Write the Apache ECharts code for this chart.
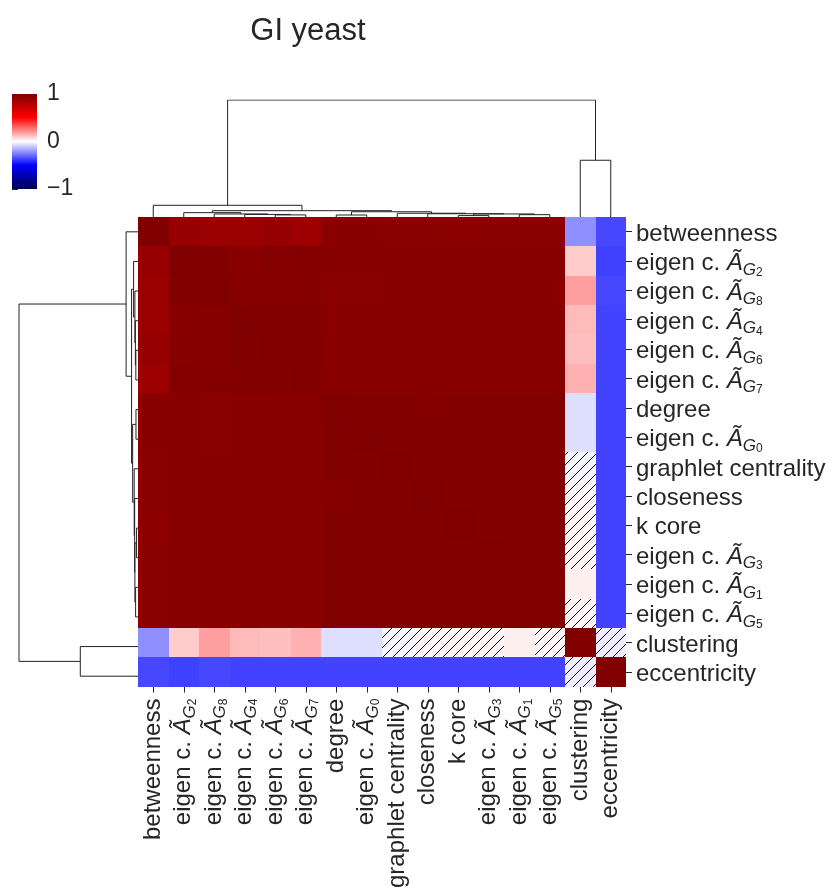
<!DOCTYPE html>
<html><head><meta charset="utf-8">
<script src="https://cdn.jsdelivr.net/npm/echarts@6/dist/echarts.min.js"></script>
<style>html,body{margin:0;padding:0;background:#fff}#c{width:829px;height:891px}</style>
</head><body><div id="c"></div>
<script>
// ---- data ----
const labels = ['betweenness','eigen c. Ã_{G_2}','eigen c. Ã_{G_8}','eigen c. Ã_{G_4}','eigen c. Ã_{G_6}','eigen c. Ã_{G_7}','degree','eigen c. Ã_{G_0}','graphlet centrality','closeness','k core','eigen c. Ã_{G_3}','eigen c. Ã_{G_1}','eigen c. Ã_{G_5}','clustering','eccentricity'];

const corr = [
 [ 1.000, 0.910, 0.895, 0.895, 0.910, 0.890, 0.960, 0.960, 0.955, 0.955, 0.950, 0.955, 0.955, 0.955,-0.220,-0.360],
 [ 0.910, 1.000, 0.990, 0.970, 0.980, 0.985, 0.965, 0.965, 0.965, 0.965, 0.965, 0.965, 0.965, 0.965, 0.100,-0.375],
 [ 0.895, 0.990, 1.000, 0.975, 0.975, 0.985, 0.955, 0.955, 0.960, 0.960, 0.960, 0.960, 0.960, 0.960, 0.190,-0.360],
 [ 0.895, 0.970, 0.975, 1.000, 0.990, 0.990, 0.960, 0.960, 0.965, 0.965, 0.965, 0.965, 0.965, 0.965, 0.135,-0.370],
 [ 0.910, 0.980, 0.975, 0.990, 1.000, 0.990, 0.965, 0.965, 0.970, 0.970, 0.970, 0.970, 0.970, 0.970, 0.125,-0.370],
 [ 0.890, 0.985, 0.985, 0.990, 0.990, 1.000, 0.965, 0.965, 0.970, 0.970, 0.970, 0.970, 0.970, 0.970, 0.155,-0.370],
 [ 0.960, 0.965, 0.955, 0.960, 0.965, 0.965, 1.000, 0.990, 0.990, 0.985, 0.990, 0.990, 0.990, 0.990,-0.065,-0.370],
 [ 0.960, 0.965, 0.955, 0.960, 0.965, 0.965, 0.990, 1.000, 0.995, 0.990, 0.990, 0.990, 0.990, 0.990,-0.065,-0.370],
 [ 0.955, 0.965, 0.960, 0.965, 0.970, 0.970, 0.990, 0.995, 1.000, 0.995, 0.995, 0.995, 0.995, 0.995,-0.020,-0.370],
 [ 0.955, 0.965, 0.960, 0.965, 0.970, 0.970, 0.985, 0.990, 0.995, 1.000, 0.995, 0.995, 0.995, 0.995, 0.015,-0.370],
 [ 0.950, 0.965, 0.960, 0.965, 0.970, 0.970, 0.990, 0.990, 0.995, 0.995, 1.000, 0.998, 0.997, 0.997, 0.020,-0.370],
 [ 0.955, 0.965, 0.960, 0.965, 0.970, 0.970, 0.990, 0.990, 0.995, 0.995, 0.998, 1.000, 0.997, 0.997, 0.020,-0.370],
 [ 0.955, 0.965, 0.960, 0.965, 0.970, 0.970, 0.990, 0.990, 0.995, 0.995, 0.997, 0.997, 1.000, 0.998, 0.030,-0.370],
 [ 0.955, 0.965, 0.960, 0.965, 0.970, 0.970, 0.990, 0.990, 0.995, 0.995, 0.997, 0.997, 0.998, 1.000, 0.015,-0.370],
 [-0.220, 0.100, 0.190, 0.135, 0.125, 0.155,-0.065,-0.065,-0.020, 0.015, 0.020, 0.020, 0.030, 0.015, 1.000,-0.035],
 [-0.360,-0.375,-0.360,-0.370,-0.370,-0.370,-0.370,-0.370,-0.370,-0.370,-0.370,-0.370,-0.370,-0.370,-0.035, 1.000]
];

// non-significant cells [row, col] (hatched)
const hatched = [[14,8],[14,9],[14,10],[14,11],[14,13],[8,14],[9,14],[10,14],[11,14],[13,14],[14,15],[15,14]];

// hierarchical linkage: [childA, childB, height]; new node ids start at 16
const linkage = [
 [6, 7, 0.017],
 [10, 11, 0.012],
 [12, 13, 0.020],
 [17, 18, 0.026],
 [9, 19, 0.028],
 [8, 20, 0.032],
 [16, 21, 0.045],
 [4, 5, 0.018],
 [3, 23, 0.022],
 [2, 24, 0.026],
 [1, 25, 0.037],
 [26, 22, 0.054],
 [0, 27, 0.100],
 [14, 15, 0.485],
 [28, 29, 1.000]
];

const cbTicks = [-1, 0, 1];
const seismic = ['#00004d', '#0000ff', '#ffffff', '#ff0000', '#800000'];
const title = 'GI yeast';

// ---- build ----
const FONT = "'Liberation Sans', Arial, sans-serif";
const TXT = '#262626';
const cells = [];
for (let r = 0; r < corr.length; r++) for (let c = 0; c < corr[r].length; c++) cells.push([c, r, corr[r][c]]);
const hatchData = hatched.map(([r, c]) => [c, r]);

const nodes = labels.map((_, i) => ({ p: i + 0.5, h: 0 }));
const topLines = [], leftLines = [];
linkage.forEach(([a, b, h]) => {
  const A = nodes[a], B = nodes[b];
  topLines.push({ coords: [[A.p, A.h], [A.p, h], [B.p, h], [B.p, B.h]] });
  leftLines.push({ coords: [[A.h, A.p], [h, A.p], [h, B.p], [B.h, B.p]] });
  nodes.push({ p: (A.p + B.p) / 2, h: h });
});

function fmt(name) {
  const m = name.match(/^eigen c\. Ã_\{G_(\d)\}$/);
  if (m) return '{m|eigen c. }{a|Ã}{g|G}{d|' + m[1] + '}';
  return '{m|' + name + '}';
}
function rich(fs) {
  return {
    m: { fontSize: fs, lineHeight: 30, fontFamily: FONT, color: TXT },
    a: { fontSize: fs, lineHeight: 30, fontStyle: 'italic', fontFamily: FONT, color: TXT },
    g: { fontSize: 17, lineHeight: 20, fontStyle: 'italic', verticalAlign: 'bottom', fontFamily: FONT, color: TXT },
    d: { fontSize: 12, lineHeight: 12, verticalAlign: 'bottom', fontFamily: FONT, color: TXT }
  };
}

function renderCell(params, api) {
  const c = api.coord([api.value(0), api.value(1)]);
  const s = api.size([1, 1]);
  const color = api.visual('color');
  const xl = Math.round(c[0] - s[0] / 2), xr = Math.round(c[0] + s[0] / 2);
  const yt = Math.round(c[1] - s[1] / 2), yb = Math.round(c[1] + s[1] / 2);
  return { type: 'rect', shape: { x: xl, y: yt, width: xr - xl, height: yb - yt },
           style: { fill: color } };
}
function renderHatch(params, api) {
  const c = api.coord([api.value(0), api.value(1)]);
  const s = api.size([1, 1]);
  const x0 = Math.round(c[0] - s[0] / 2), x1 = Math.round(c[0] + s[0] / 2);
  const y0 = Math.round(c[1] - s[1] / 2), y1 = Math.round(c[1] + s[1] / 2);
  const step = 10, children = [];
  for (let k = Math.ceil((x0 + y0) / step); k * step <= x1 + y1; k++) {
    const cc = k * step;
    const xa = Math.max(x0, cc - y1), xb = Math.min(x1, cc - y0);
    if (xb - xa < 0.5) continue;
    children.push({ type: 'line', shape: { x1: xa, y1: cc - xa, x2: xb, y2: cc - xb },
                    style: { stroke: '#000', lineWidth: 1 } });
  }
  return { type: 'group', children };
}
function renderBar(params, api) {
  const top = api.coord([0, 1]), bot = api.coord([0, -1]);
  const cs = params.coordSys;
  return { type: 'rect', shape: { x: cs.x, y: top[1], width: cs.width, height: bot[1] - top[1] },
           style: { fill: { type: 'linear', x: 0, y: 1, x2: 0, y2: 0, global: false,
             colorStops: seismic.map((col, i) => ({ offset: i / (seismic.length - 1), color: col })) } } };
}

const chart = echarts.init(document.getElementById('c'), null, { renderer: 'canvas' });
chart.setOption({
  animation: false,
  backgroundColor: '#fff',
  title: { text: title, left: 303, top: 11, textAlign: 'center',
           textStyle: { fontSize: 31, fontWeight: 'normal', color: TXT, fontFamily: FONT } },
  grid: [
    { left: 138, top: 217, width: 488, height: 474 },
    { left: 138, top: 100, width: 488, height: 117 },
    { left: 19, top: 217, width: 119, height: 474 },
    { left: 12, top: 94, width: 25, height: 95 }
  ],
  xAxis: [
    { type: 'category', gridIndex: 0, data: labels, position: 'bottom',
      axisLine: { show: false }, splitLine: { show: false },
      axisTick: { show: true, length: 6, lineStyle: { color: TXT, width: 1 }, alignWithLabel: true },
      axisLabel: { interval: 0, rotate: 90, margin: 12, formatter: fmt, rich: rich(24) } },
    { type: 'value', gridIndex: 1, min: 0, max: 16, show: false },
    { type: 'value', gridIndex: 2, min: 0, max: 1, inverse: true, show: false },
    { type: 'value', gridIndex: 3, min: 0, max: 1, show: false }
  ],
  yAxis: [
    { type: 'category', gridIndex: 0, data: labels, position: 'right', inverse: true,
      axisLine: { show: false }, splitLine: { show: false },
      axisTick: { show: true, length: 6, lineStyle: { color: TXT, width: 1 }, alignWithLabel: true },
      axisLabel: { interval: 0, margin: 10, padding: [5, 0, 0, 0], formatter: fmt, rich: rich(24) } },
    { type: 'value', gridIndex: 1, min: 0, max: 1, show: false },
    { type: 'value', gridIndex: 2, min: 0, max: 16, inverse: true, show: false },
    { type: 'value', gridIndex: 3, min: cbTicks[0], max: cbTicks[cbTicks.length - 1], interval: 1, position: 'right',
      axisLine: { show: false }, splitLine: { show: false },
      axisTick: { show: true, length: 6, lineStyle: { color: TXT, width: 1 } },
      axisLabel: { margin: 10, fontSize: 23, color: TXT, fontFamily: FONT, showMinLabel: true, showMaxLabel: true,
                   formatter: v => (v < 0 ? '\u2212' + Math.abs(v) : String(v)) } }
  ],
  visualMap: { type: 'continuous', show: false, min: -1, max: 1, dimension: 2, seriesIndex: 0,
               inRange: { color: seismic } },
  series: [
    { type: 'custom', xAxisIndex: 0, yAxisIndex: 0, data: cells, renderItem: renderCell, silent: true,
      encode: { x: 0, y: 1 } },
    { type: 'custom', xAxisIndex: 0, yAxisIndex: 0, data: hatchData, renderItem: renderHatch, silent: true,
      encode: { x: 0, y: 1 } },
    { type: 'lines', coordinateSystem: 'cartesian2d', xAxisIndex: 1, yAxisIndex: 1, polyline: true,
      data: topLines, lineStyle: { color: '#222', width: 1, opacity: 1 }, silent: true },
    { type: 'lines', coordinateSystem: 'cartesian2d', xAxisIndex: 2, yAxisIndex: 2, polyline: true,
      data: leftLines, lineStyle: { color: '#222', width: 1, opacity: 1 }, silent: true },
    { type: 'custom', xAxisIndex: 3, yAxisIndex: 3, data: [[0.5, 0]], renderItem: renderBar, silent: true,
      encode: { x: 0, y: 1 } }
  ]
});
</script></body></html>
